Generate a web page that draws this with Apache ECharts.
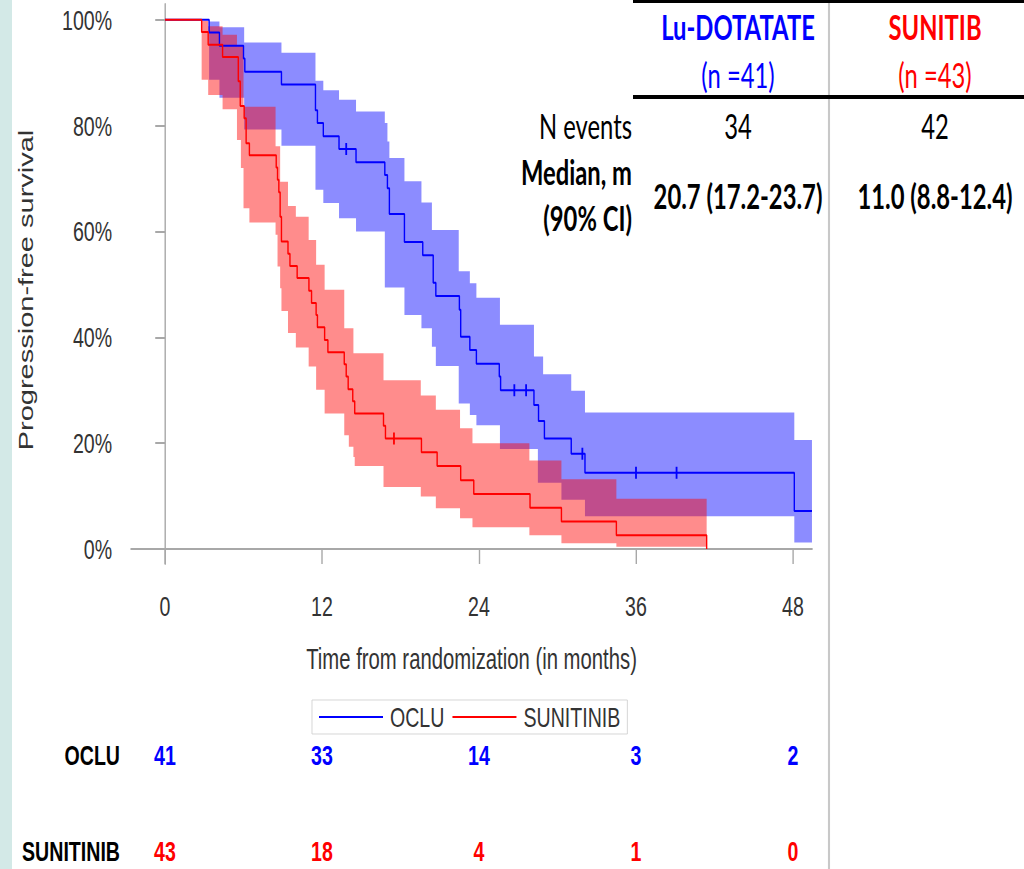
<!DOCTYPE html>
<html>
<head>
<meta charset="utf-8">
<title>Progression-free survival</title>
<script src="https://cdn.jsdelivr.net/npm/echarts@6/dist/echarts.min.js"></script>
<style>
  html, body { margin: 0; padding: 0; background: #ffffff; overflow: hidden; }
  #chart { height: 869px; transform-origin: 0 0; }
</style>
</head>
<body>
<div id="chart"></div>
<script>
// Condensed typesetting: the chart is laid out wide and squeezed horizontally.
const SQUEEZE = 0.7;
const px = v => v / SQUEEZE;

// ---- Kaplan-Meier estimates (months, % progression-free) ----
const ocluTimes = [0, 3.37, 4.16, 6.0, 6.1, 8.9, 11.5, 11.65, 12.1, 13.3, 14.6, 16.8, 17.0, 17.15, 18.3, 19.7, 20.5, 20.7, 22.5, 22.6, 23.3, 23.8, 25.55, 25.65, 28.2, 28.55, 29.0, 31.05, 32.1, 48.1];
const ocluSurv  = [100, 97.6, 95.1, 92.7, 90.2, 87.8, 82.9, 80.5, 78.0, 75.6, 73.1, 70.7, 68.2, 63.3, 58.0, 55.5, 50.3, 47.8, 45.2, 40.1, 37.6, 35.0, 32.6, 30.0, 27.2, 24.2, 20.9, 18.0, 14.4, 7.2];
const ocluLastFollowUp = 49.45;
const ocluCensored = [13.85, 26.7, 27.6, 31.9, 36.0, 39.1];

const sunTimes = [0, 2.8, 3.3, 4.4, 5.6, 5.75, 6.05, 6.2, 6.45, 8.5, 8.6, 8.7, 8.8, 8.9, 9.4, 9.55, 10.1, 11.0, 11.2, 11.55, 11.65, 12.2, 12.45, 13.7, 13.85, 14.0, 14.35, 14.5, 16.7, 16.85, 19.6, 20.8, 22.6, 23.6, 27.9, 30.3, 34.5, 41.4];
const sunSurv  = [100, 97.7, 95.3, 93.0, 88.4, 83.7, 81.4, 76.7, 74.4, 72.1, 69.8, 67.4, 62.8, 58.1, 55.8, 53.5, 51.2, 48.8, 46.5, 44.2, 41.9, 39.5, 37.2, 34.9, 32.6, 30.2, 27.9, 25.6, 23.3, 20.9, 18.3, 15.7, 13.0, 10.4, 7.8, 5.2, 2.6, 0];
const sunCensored = [17.5];

// ---- 90% confidence bands: breakpoints and per-interval bounds ----
const ocluBandTimes = [3.37, 4.16, 6.05, 8.9, 11.5, 12.1, 13.3, 14.6, 16.8, 17.0, 17.15, 18.3, 19.6, 20.4, 20.7, 22.45, 23.3, 23.8, 25.6, 28.2, 28.5, 28.9, 30.3, 31.05, 32.1, 48.1, 49.45];
const ocluBandUpper = [99.7, 98.6, 95.7, 93.8, 88.5, 86.7, 84.9, 82.7, 80.5, 77.0, 73.9, 69.5, 65.5, 60.3, 60.3, 52.5, 50.2, 47.5, 42.4, 36.4, 36.4, 33.0, 33.0, 29.9, 25.8, 20.6];
const ocluBandLower = [88.7, 85.3, 79.3, 76.2, 67.9, 65.4, 62.5, 60.0, 49.4, 49.4, 49.4, 44.2, 41.7, 38.2, 34.6, 27.5, 25.3, 23.4, 18.9, 18.9, 12.5, 12.5, 9.3, 9.3, 6.2, 1.2];

const sunBandTimes = [2.8, 3.3, 4.4, 5.5, 5.8, 6.0, 6.45, 8.45, 8.6, 8.8, 8.9, 9.4, 10.0, 10.98, 11.55, 12.2, 13.7, 14.05, 14.4, 14.5, 16.7, 19.55, 20.7, 22.55, 23.5, 27.85, 30.3, 34.5, 41.4];
const sunBandUpper = [99.8, 98.8, 97.2, 95.0, 95.0, 83.6, 83.6, 76.1, 76.1, 69.4, 69.4, 64.8, 62.8, 58.4, 53.7, 49.0, 41.7, 41.7, 37.0, 37.0, 31.9, 29.0, 26.3, 22.8, 20.0, 16.7, 13.2, 9.5];
const sunBandLower = [88.7, 85.8, 83.1, 77.3, 72.0, 64.4, 61.7, 59.4, 53.4, 49.3, 45.0, 40.8, 38.1, 34.5, 30.1, 25.6, 21.5, 19.3, 17.4, 15.7, 11.7, 9.9, 7.7, 5.8, 4.1, 2.6, 1.1, 0.4];

// ---- Axes and number-at-risk table ----
const xTicks = [0, 12, 24, 36, 48];
const yTicks = [0, 20, 40, 60, 80, 100];
const riskTimes = [0, 12, 24, 36, 48];
const ocluAtRisk = [41, 33, 14, 3, 2];
const sunAtRisk = [43, 18, 4, 1, 0];

// ---- Summary table ----
const armHeaders = ['Lu-DOTATATE', 'SUNITIB'];
const armSizes = ['(n =41)', '(n =43)'];
const nEvents = ['34', '42'];
const medians = ['20.7 (17.2-23.7)', '11.0 (8.8-12.4)'];

const BLUE = '#0000ff';
const RED = '#ff0000';
const SAS_FONT = "'Liberation Sans', Arial, sans-serif";
const TABLE_FONT = "Lato, 'Open Sans', sans-serif";
const TABLE_SIZE = 34;

const X_MIN = -2.6, X_MAX = 49.46;
const Y_MIN = -2.84, Y_MAX = 103.0;

function survAt(times, surv, t) {
  let v = surv[0];
  for (let i = 0; i < times.length; i++) if (times[i] <= t) v = surv[i];
  return v;
}

function bandRenderer(times, lower, upper, fill) {
  return function (params, api) {
    const pts = [];
    for (let i = 0; i < upper.length; i++) {
      pts.push(api.coord([times[i], upper[i]]), api.coord([times[i + 1], upper[i]]));
    }
    for (let i = lower.length - 1; i >= 0; i--) {
      pts.push(api.coord([times[i + 1], lower[i]]), api.coord([times[i], lower[i]]));
    }
    return { type: 'polygon', shape: { points: pts }, style: { fill: fill } };
  };
}

const ocluLine = ocluTimes.map((t, i) => [t, ocluSurv[i]]);
ocluLine.push([ocluLastFollowUp, ocluSurv[ocluSurv.length - 1]]);
const sunLine = sunTimes.map((t, i) => [t, sunSurv[i]]);

const dom = document.getElementById('chart');
dom.style.width = px(1024) + 'px';
dom.style.transform = 'scaleX(' + SQUEEZE + ')';

const chart = echarts.init(dom, null, { renderer: 'svg' });

const gridLeft = px(131), gridRight = px(1024 - 812);

function riskRow(gridIndex, name) {
  return {
    gridIndex: gridIndex, type: 'category', data: [name],
    axisLine: { show: false }, axisTick: { show: false },
    axisLabel: { fontFamily: SAS_FONT, fontWeight: 'bold', fontSize: 28, color: '#000', margin: px(11) }
  };
}

function tableText(x, y, text, color, bold, align) {
  return {
    type: 'text', x: px(x), y: y,
    style: {
      text: text, fill: color, textAlign: align || 'center', textVerticalAlign: 'middle',
      font: (bold ? 'bold ' : '') + TABLE_SIZE + 'px ' + TABLE_FONT
    }
  };
}

function riskSeries(name, gridIndex, counts, color) {
  return {
    name: name + ' at risk', type: 'scatter', xAxisIndex: gridIndex, yAxisIndex: gridIndex,
    symbolSize: 1, itemStyle: { color: 'transparent', opacity: 1 },
    label: { show: true, position: 'inside', formatter: p => String(p.value[2]),
      fontFamily: SAS_FONT, fontWeight: 'bold', fontSize: 28, color: color },
    data: riskTimes.map((t, i) => [t, name, counts[i]])
  };
}

const option = {
  animation: false,
  backgroundColor: '#ffffff',
  grid: [
    { left: gridLeft, right: gridRight, top: 4, bottom: 869 - 564 },
    { left: gridLeft, right: gridRight, top: 740, height: 30 },
    { left: gridLeft, right: gridRight, top: 836, height: 30 }
  ],
  xAxis: [
    {
      gridIndex: 0, type: 'value', min: X_MIN, max: X_MAX,
      axisLine: { show: true, lineStyle: { color: '#a8a8a8', width: 2 } },
      axisTick: { show: true, length: 15, customValues: xTicks, lineStyle: { color: '#a8a8a8', width: 2 } },
      axisLabel: { customValues: xTicks, margin: 28, fontFamily: SAS_FONT, fontSize: 28, color: '#333' },
      splitLine: { show: false },
      name: 'Time from randomization (in months)', nameLocation: 'middle', nameGap: 80,
      nameTextStyle: { fontFamily: SAS_FONT, fontSize: 29, color: '#333' }
    },
    { gridIndex: 1, type: 'value', min: X_MIN, max: X_MAX, show: false },
    { gridIndex: 2, type: 'value', min: X_MIN, max: X_MAX, show: false }
  ],
  yAxis: [
    {
      gridIndex: 0, type: 'value', min: Y_MIN, max: Y_MAX,
      axisLine: { show: true, lineStyle: { color: '#a8a8a8', width: 2 } },
      axisTick: { show: true, length: 14, customValues: yTicks, lineStyle: { color: '#a8a8a8', width: 2 } },
      axisLabel: { customValues: yTicks, formatter: '{value}%', margin: 27, fontFamily: SAS_FONT, fontSize: 28, color: '#333' },
      splitLine: { show: false },
      name: 'Progression-free survival', nameLocation: 'middle', nameGap: 136,
      nameTextStyle: { fontFamily: SAS_FONT, fontSize: 29, color: '#333', padding: [0, 12, 0, 0] }
    },
    riskRow(1, 'OCLU'),
    riskRow(2, 'SUNITINIB')
  ],
  legend: {
    data: ['OCLU', 'SUNITINIB'],
    left: px(312), top: 700,
    icon: 'rect',
    borderColor: '#cfcfcf', borderWidth: 1,
    padding: [3, px(7), 3, px(7)],
    itemWidth: px(64), itemHeight: 2, itemGap: px(8),
    textStyle: { fontFamily: SAS_FONT, fontSize: 28, color: '#333', padding: [0, 0, 0, 5] }
  },
  series: [
    {
      name: 'OCLU 90% CI', type: 'custom', xAxisIndex: 0, yAxisIndex: 0, silent: true, z: 1,
      data: [[ocluBandTimes[0], ocluBandUpper[0]]],
      renderItem: bandRenderer(ocluBandTimes, ocluBandLower, ocluBandUpper, 'rgba(0,0,255,0.45)')
    },
    {
      name: 'SUNITINIB 90% CI', type: 'custom', xAxisIndex: 0, yAxisIndex: 0, silent: true, z: 2,
      data: [[sunBandTimes[0], sunBandUpper[0]]],
      renderItem: bandRenderer(sunBandTimes, sunBandLower, sunBandUpper, 'rgba(255,0,0,0.45)')
    },
    {
      name: 'OCLU', type: 'line', step: 'end', data: ocluLine, z: 3,
      symbol: 'none', showSymbol: false, color: BLUE,
      lineStyle: { color: BLUE, width: 2 }
    },
    {
      name: 'SUNITINIB', type: 'line', step: 'end', data: sunLine, z: 4,
      symbol: 'none', showSymbol: false, color: RED,
      lineStyle: { color: RED, width: 2 }
    },
    {
      name: 'OCLU censored', type: 'scatter', z: 5, symbol: 'rect', symbolSize: [2.6, 12],
      itemStyle: { color: BLUE, opacity: 1 },
      data: ocluCensored.map(t => [t, survAt(ocluTimes, ocluSurv, t)])
    },
    {
      name: 'SUNITINIB censored', type: 'scatter', z: 5, symbol: 'rect', symbolSize: [2.6, 12],
      itemStyle: { color: RED, opacity: 1 },
      data: sunCensored.map(t => [t, survAt(sunTimes, sunSurv, t)])
    },
    riskSeries('OCLU', 1, ocluAtRisk, BLUE),
    riskSeries('SUNITINIB', 2, sunAtRisk, RED)
  ],
  graphic: [
    { type: 'rect', shape: { x: 0, y: 0, width: px(12), height: 869 }, style: { fill: '#d3e9e7' }, z: 0 },
    { type: 'line', shape: { x1: px(829), y1: 0, x2: px(829), y2: 869 }, style: { stroke: '#c8c8c8', lineWidth: 3 } },
    { type: 'rect', shape: { x: px(633), y: 0, width: px(1024 - 633), height: 3 }, style: { fill: '#000' } },
    { type: 'rect', shape: { x: px(633), y: 95, width: px(1024 - 633), height: 4 }, style: { fill: '#000' } },
    tableText(738, 27, armHeaders[0], BLUE, true),
    tableText(935, 27, armHeaders[1], RED, true),
    tableText(738, 75, armSizes[0], BLUE, false),
    tableText(935, 75, armSizes[1], RED, false),
    tableText(632, 126, 'N events', '#000', false, 'right'),
    tableText(738, 126, nEvents[0], '#000', false),
    tableText(935, 126, nEvents[1], '#000', false),
    tableText(632, 172, 'Median, m', '#000', true, 'right'),
    tableText(632, 218, '(90% CI)', '#000', true, 'right'),
    tableText(738, 196, medians[0], '#000', true),
    tableText(935, 196, medians[1], '#000', true)
  ]
};

chart.setOption(option);
</script>
</body>
</html>
